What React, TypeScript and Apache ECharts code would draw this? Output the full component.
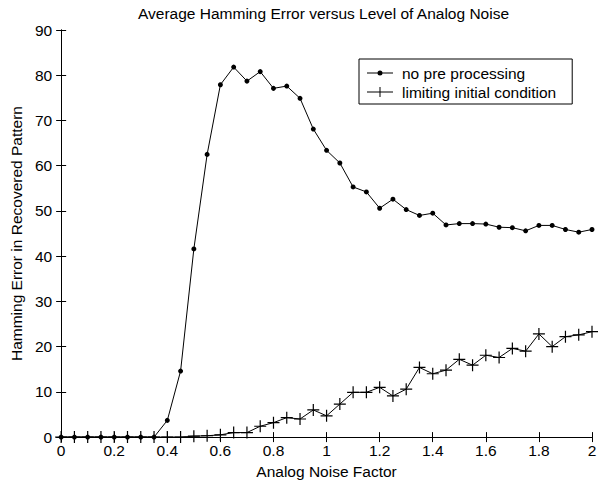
import React, { useEffect, useRef } from "react";
import * as echarts from "echarts";

const noiseFactor = [
  0, 0.05, 0.1, 0.15, 0.2, 0.25, 0.3, 0.35, 0.4, 0.45,
  0.5, 0.55, 0.6, 0.65, 0.7, 0.75, 0.8, 0.85, 0.9, 0.95,
  1.0, 1.05, 1.1, 1.15, 1.2, 1.25, 1.3, 1.35, 1.4, 1.45,
  1.5, 1.55, 1.6, 1.65, 1.7, 1.75, 1.8, 1.85, 1.9, 1.95, 2.0,
];

const noPreProcessing = [
  0, 0, 0, 0, 0, 0, 0, 0, 3.7, 14.6,
  41.6, 62.5, 77.9, 81.8, 78.7, 80.8, 77.1, 77.6, 74.9, 68.1,
  63.4, 60.6, 55.3, 54.2, 50.6, 52.6, 50.3, 49.0, 49.5, 46.9,
  47.2, 47.2, 47.1, 46.4, 46.3, 45.6, 46.8, 46.8, 45.9, 45.3, 45.9,
];

const limitingInitial = [
  0, 0, 0, 0, 0, 0, 0, 0, 0, 0,
  0.2, 0.3, 0.5, 1.0, 1.0, 2.4, 3.2, 4.3, 4.0, 6.0,
  4.7, 7.3, 9.9, 9.9, 11.0, 9.1, 10.6, 15.4, 14.0, 14.8,
  17.2, 15.9, 18.1, 17.6, 19.6, 19.0, 22.8, 20.0, 22.2, 22.6, 23.3,
];

const seriesNames = ["no pre processing", "limiting initial condition"];
const titleText = "Average Hamming Error versus Level of Analog Noise";
const xName = "Analog Noise Factor";
const yName = "Hamming Error in Recovered Pattern";

const FONT = "'Liberation Sans', Arial, Helvetica, sans-serif";
const FS = 15.5;

const plusSymbol = "path://M0,4.5h10v1h-10zM4.5,0h1v10h-1z";
const legendDot =
  "path://M0,0h0.01v0.01h-0.01zM0,11.99h0.01v0.01h-0.01zM0,5.5h26v1h-26zM13,3.5a2.5,2.5 0 1 1 0,5a2.5,2.5 0 1 1 0,-5z";
const legendPlus =
  "path://M0,0h0.01v0.01h-0.01zM0,11.99h0.01v0.01h-0.01zM0,5.5h26v1h-26zM12.5,1h1v10h-1z";

export default function App() {
  const ref = useRef<HTMLDivElement>(null);

  useEffect(() => {
    if (!ref.current) return;
    const chart = echarts.init(ref.current, undefined, { renderer: "svg" });

    const axisCommon = {
      type: "value" as const,
      axisLine: { show: true, lineStyle: { color: "#000", width: 1 } },
      axisTick: { show: true, inside: true, length: 5, lineStyle: { color: "#000", width: 1 } },
      splitLine: { show: false },
    };

    chart.setOption({
      animation: false,
      backgroundColor: "#fff",
      title: {
        text: titleText,
        left: 138,
        top: 5,
        padding: 0,
        textStyle: { fontFamily: FONT, fontSize: FS, fontWeight: "normal", color: "#000" },
      },
      legend: {
        orient: "vertical",
        left: 359,
        top: 59,
        padding: [6, 16, 4, 8],
        itemGap: 3,
        itemWidth: 26,
        itemHeight: 12,
        borderColor: "#000",
        borderWidth: 1,
        borderRadius: 0,
        backgroundColor: "#fff",
        textStyle: {
          fontFamily: FONT,
          fontSize: FS,
          color: "#000",
          lineHeight: 16,
          padding: [0, 0, 0, 4],
        },
        data: [
          { name: seriesNames[0], icon: legendDot },
          { name: seriesNames[1], icon: legendPlus },
        ],
      },
      grid: { left: 60, right: 13, top: 30, bottom: 43.5, containLabel: false },
      xAxis: [
        {
          ...axisCommon,
          position: "bottom",
          min: 0,
          max: 2,
          interval: 0.2,
          name: xName,
          nameLocation: "middle",
          nameGap: 25,
          nameTextStyle: { fontFamily: FONT, fontSize: FS, color: "#000" },
          axisLabel: { show: true, margin: 5, fontFamily: FONT, fontSize: FS, color: "#000" },
        },
        {
          ...axisCommon,
          position: "top",
          min: 0,
          max: 2,
          interval: 0.2,
          axisLabel: { show: false },
        },
      ],
      yAxis: [
        {
          ...axisCommon,
          position: "left",
          min: 0,
          max: 90,
          interval: 10,
          name: yName,
          nameLocation: "middle",
          nameGap: 26,
          nameTextStyle: { fontFamily: FONT, fontSize: FS, color: "#000" },
          axisLabel: { show: true, margin: 9, fontFamily: FONT, fontSize: FS, color: "#000" },
        },
        {
          ...axisCommon,
          position: "right",
          min: 0,
          max: 90,
          interval: 10,
          axisLabel: { show: false },
        },
      ],
      series: [
        {
          name: seriesNames[0],
          type: "line",
          xAxisIndex: 0,
          yAxisIndex: 0,
          data: noiseFactor.map((x, i) => [x, noPreProcessing[i]]),
          symbol: "circle",
          symbolSize: 5,
          showAllSymbol: true,
          color: "#000",
          itemStyle: { color: "#000" },
          lineStyle: { color: "#000", width: 1 },
          clip: false,
        },
        {
          name: seriesNames[1],
          type: "line",
          xAxisIndex: 0,
          yAxisIndex: 0,
          data: noiseFactor.map((x, i) => [x, limitingInitial[i]]),
          symbol: plusSymbol,
          symbolSize: 12,
          showAllSymbol: true,
          color: "#000",
          itemStyle: { color: "#000" },
          lineStyle: { color: "#000", width: 1 },
          clip: false,
        },
      ],
    });

    return () => chart.dispose();
  }, []);

  return (
    <div
      ref={ref}
      style={{ position: "fixed", left: 0, top: 0, width: 605, height: 484, background: "#fff" }}
    />
  );
}
